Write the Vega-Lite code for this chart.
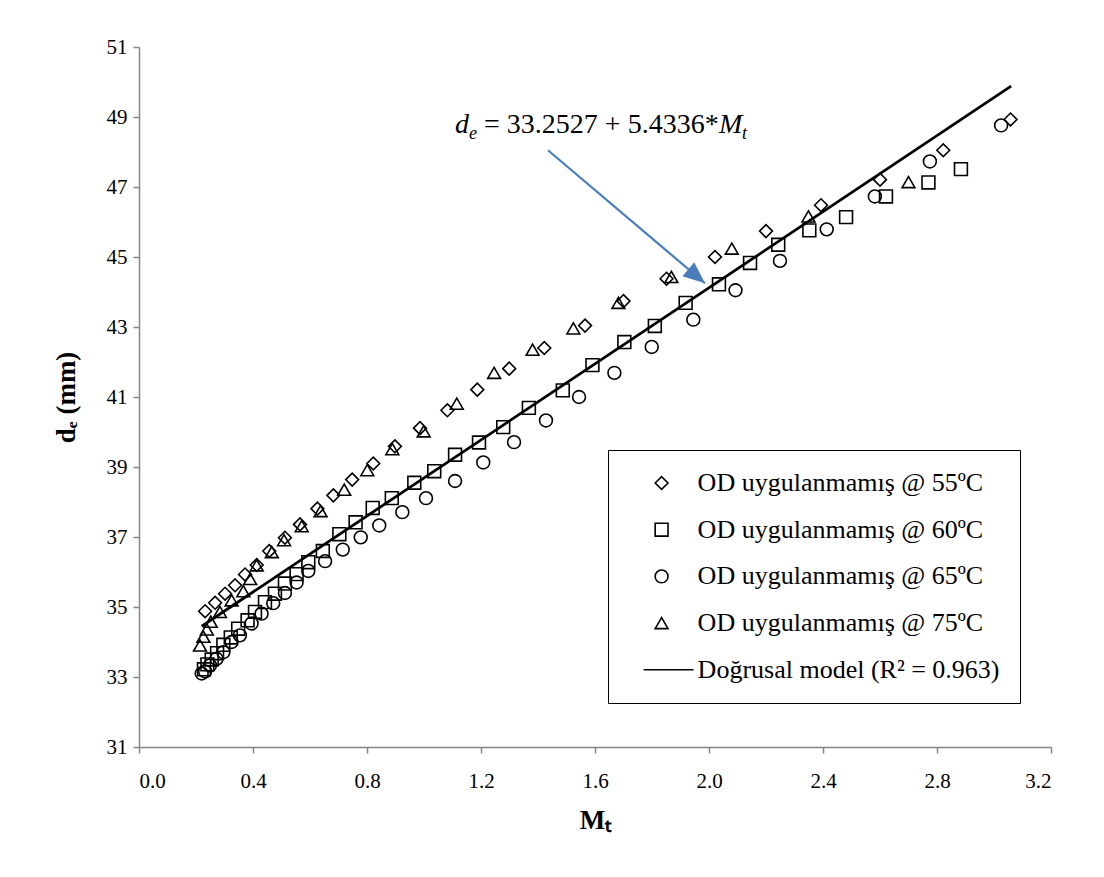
{
  "$schema": "https://vega.github.io/schema/vega-lite/v6.json",
  "width": 912,
  "height": 700,
  "autosize": {"type": "none"},
  "padding": {"left": 139, "top": 47, "right": 53, "bottom": 130},
  "background": "white",
  "config": {
    "font": "Liberation Serif",
    "view": {"stroke": null},
    "axis": {
      "grid": false,
      "domainColor": "#868686",
      "domainWidth": 1.5,
      "tickColor": "#868686",
      "tickWidth": 1.5,
      "tickSize": 6,
      "labelFont": "Liberation Serif",
      "labelFontSize": 21,
      "labelColor": "black",
      "titleFont": "Liberation Serif",
      "titleFontSize": 27,
      "titleFontWeight": "bold",
      "titleColor": "black"
    },
    "legend": {
      "orient": "none",
      "legendX": 469,
      "legendY": 403,
      "title": null,
      "strokeColor": "black",
      "padding": 20,
      "rowPadding": 20.7,
      "labelFont": "Liberation Serif",
      "labelFontSize": 26,
      "labelColor": "black",
      "labelLimit": 500,
      "labelOffset": 23,
      "symbolSize": 165,
      "symbolOffset": 20.6,
      "symbolStrokeColor": "black",
      "symbolStrokeWidth": 1.6
    }
  },
  "datasets": {
    "pts": [
      {"s": "OD uygulanmamış @ 55ºC", "Mt": 0.232, "de": 34.88},
      {"s": "OD uygulanmamış @ 55ºC", "Mt": 0.267, "de": 35.12},
      {"s": "OD uygulanmamış @ 55ºC", "Mt": 0.302, "de": 35.38},
      {"s": "OD uygulanmamış @ 55ºC", "Mt": 0.337, "de": 35.62},
      {"s": "OD uygulanmamış @ 55ºC", "Mt": 0.372, "de": 35.93},
      {"s": "OD uygulanmamış @ 55ºC", "Mt": 0.413, "de": 36.2},
      {"s": "OD uygulanmamış @ 55ºC", "Mt": 0.457, "de": 36.6},
      {"s": "OD uygulanmamış @ 55ºC", "Mt": 0.512, "de": 36.98},
      {"s": "OD uygulanmamış @ 55ºC", "Mt": 0.565, "de": 37.36},
      {"s": "OD uygulanmamış @ 55ºC", "Mt": 0.626, "de": 37.81},
      {"s": "OD uygulanmamış @ 55ºC", "Mt": 0.682, "de": 38.19},
      {"s": "OD uygulanmamış @ 55ºC", "Mt": 0.748, "de": 38.64},
      {"s": "OD uygulanmamış @ 55ºC", "Mt": 0.822, "de": 39.1},
      {"s": "OD uygulanmamış @ 55ºC", "Mt": 0.898, "de": 39.59},
      {"s": "OD uygulanmamış @ 55ºC", "Mt": 0.986, "de": 40.11},
      {"s": "OD uygulanmamış @ 55ºC", "Mt": 1.082, "de": 40.62},
      {"s": "OD uygulanmamış @ 55ºC", "Mt": 1.187, "de": 41.21},
      {"s": "OD uygulanmamış @ 55ºC", "Mt": 1.299, "de": 41.81},
      {"s": "OD uygulanmamış @ 55ºC", "Mt": 1.422, "de": 42.4},
      {"s": "OD uygulanmamış @ 55ºC", "Mt": 1.565, "de": 43.04},
      {"s": "OD uygulanmamış @ 55ºC", "Mt": 1.7, "de": 43.74},
      {"s": "OD uygulanmamış @ 55ºC", "Mt": 1.851, "de": 44.38},
      {"s": "OD uygulanmamış @ 55ºC", "Mt": 2.021, "de": 45.0},
      {"s": "OD uygulanmamış @ 55ºC", "Mt": 2.2, "de": 45.74},
      {"s": "OD uygulanmamış @ 55ºC", "Mt": 2.393, "de": 46.48},
      {"s": "OD uygulanmamış @ 55ºC", "Mt": 2.6, "de": 47.21},
      {"s": "OD uygulanmamış @ 55ºC", "Mt": 2.822, "de": 48.05},
      {"s": "OD uygulanmamış @ 55ºC", "Mt": 3.058, "de": 48.93},
      {"s": "OD uygulanmamış @ 60ºC", "Mt": 0.228, "de": 33.22},
      {"s": "OD uygulanmamış @ 60ºC", "Mt": 0.24, "de": 33.36},
      {"s": "OD uygulanmamış @ 60ºC", "Mt": 0.255, "de": 33.5},
      {"s": "OD uygulanmamış @ 60ºC", "Mt": 0.274, "de": 33.68},
      {"s": "OD uygulanmamış @ 60ºC", "Mt": 0.296, "de": 33.92},
      {"s": "OD uygulanmamış @ 60ºC", "Mt": 0.322, "de": 34.13},
      {"s": "OD uygulanmamış @ 60ºC", "Mt": 0.348, "de": 34.38},
      {"s": "OD uygulanmamış @ 60ºC", "Mt": 0.381, "de": 34.62},
      {"s": "OD uygulanmamış @ 60ºC", "Mt": 0.407, "de": 34.86},
      {"s": "OD uygulanmamış @ 60ºC", "Mt": 0.442, "de": 35.14},
      {"s": "OD uygulanmamış @ 60ºC", "Mt": 0.477, "de": 35.38},
      {"s": "OD uygulanmamış @ 60ºC", "Mt": 0.512, "de": 35.67},
      {"s": "OD uygulanmamış @ 60ºC", "Mt": 0.553, "de": 35.94},
      {"s": "OD uygulanmamış @ 60ºC", "Mt": 0.594, "de": 36.28},
      {"s": "OD uygulanmamış @ 60ºC", "Mt": 0.645, "de": 36.6},
      {"s": "OD uygulanmamış @ 60ºC", "Mt": 0.703, "de": 37.08},
      {"s": "OD uygulanmamış @ 60ºC", "Mt": 0.76, "de": 37.42},
      {"s": "OD uygulanmamış @ 60ºC", "Mt": 0.82, "de": 37.83},
      {"s": "OD uygulanmamış @ 60ºC", "Mt": 0.887, "de": 38.11},
      {"s": "OD uygulanmamış @ 60ºC", "Mt": 0.966, "de": 38.55},
      {"s": "OD uygulanmamış @ 60ºC", "Mt": 1.036, "de": 38.88},
      {"s": "OD uygulanmamış @ 60ºC", "Mt": 1.109, "de": 39.35},
      {"s": "OD uygulanmamış @ 60ºC", "Mt": 1.193, "de": 39.7},
      {"s": "OD uygulanmamış @ 60ºC", "Mt": 1.278, "de": 40.14},
      {"s": "OD uygulanmamış @ 60ºC", "Mt": 1.368, "de": 40.69},
      {"s": "OD uygulanmamış @ 60ºC", "Mt": 1.487, "de": 41.19},
      {"s": "OD uygulanmamış @ 60ºC", "Mt": 1.591, "de": 41.91},
      {"s": "OD uygulanmamış @ 60ºC", "Mt": 1.703, "de": 42.57},
      {"s": "OD uygulanmamış @ 60ºC", "Mt": 1.81, "de": 43.03},
      {"s": "OD uygulanmamış @ 60ºC", "Mt": 1.918, "de": 43.69},
      {"s": "OD uygulanmamış @ 60ºC", "Mt": 2.035, "de": 44.22},
      {"s": "OD uygulanmamış @ 60ºC", "Mt": 2.144, "de": 44.83},
      {"s": "OD uygulanmamış @ 60ºC", "Mt": 2.243, "de": 45.35},
      {"s": "OD uygulanmamış @ 60ºC", "Mt": 2.352, "de": 45.76},
      {"s": "OD uygulanmamış @ 60ºC", "Mt": 2.481, "de": 46.14},
      {"s": "OD uygulanmamış @ 60ºC", "Mt": 2.621, "de": 46.73},
      {"s": "OD uygulanmamış @ 60ºC", "Mt": 2.77, "de": 47.13},
      {"s": "OD uygulanmamış @ 60ºC", "Mt": 2.884, "de": 47.51},
      {"s": "OD uygulanmamış @ 65ºC", "Mt": 0.22, "de": 33.1},
      {"s": "OD uygulanmamış @ 65ºC", "Mt": 0.232, "de": 33.16},
      {"s": "OD uygulanmamış @ 65ºC", "Mt": 0.249, "de": 33.33},
      {"s": "OD uygulanmamış @ 65ºC", "Mt": 0.272, "de": 33.52},
      {"s": "OD uygulanmamış @ 65ºC", "Mt": 0.296, "de": 33.71},
      {"s": "OD uygulanmamış @ 65ºC", "Mt": 0.325, "de": 34.0},
      {"s": "OD uygulanmamış @ 65ºC", "Mt": 0.354, "de": 34.19},
      {"s": "OD uygulanmamış @ 65ºC", "Mt": 0.395, "de": 34.53},
      {"s": "OD uygulanmamış @ 65ºC", "Mt": 0.43, "de": 34.81},
      {"s": "OD uygulanmamış @ 65ºC", "Mt": 0.471, "de": 35.11},
      {"s": "OD uygulanmamış @ 65ºC", "Mt": 0.512, "de": 35.4},
      {"s": "OD uygulanmamış @ 65ºC", "Mt": 0.553, "de": 35.7},
      {"s": "OD uygulanmamış @ 65ºC", "Mt": 0.594, "de": 36.03},
      {"s": "OD uygulanmamış @ 65ºC", "Mt": 0.653, "de": 36.31},
      {"s": "OD uygulanmamış @ 65ºC", "Mt": 0.715, "de": 36.64},
      {"s": "OD uygulanmamış @ 65ºC", "Mt": 0.778, "de": 36.99},
      {"s": "OD uygulanmamış @ 65ºC", "Mt": 0.843, "de": 37.33},
      {"s": "OD uygulanmamış @ 65ºC", "Mt": 0.924, "de": 37.71},
      {"s": "OD uygulanmamış @ 65ºC", "Mt": 1.007, "de": 38.11},
      {"s": "OD uygulanmamış @ 65ºC", "Mt": 1.109, "de": 38.6},
      {"s": "OD uygulanmamış @ 65ºC", "Mt": 1.208, "de": 39.13},
      {"s": "OD uygulanmamış @ 65ºC", "Mt": 1.316, "de": 39.71},
      {"s": "OD uygulanmamış @ 65ºC", "Mt": 1.428, "de": 40.33},
      {"s": "OD uygulanmamış @ 65ºC", "Mt": 1.544, "de": 41.0},
      {"s": "OD uygulanmamış @ 65ºC", "Mt": 1.668, "de": 41.69},
      {"s": "OD uygulanmamış @ 65ºC", "Mt": 1.799, "de": 42.43},
      {"s": "OD uygulanmamış @ 65ºC", "Mt": 1.945, "de": 43.21},
      {"s": "OD uygulanmamış @ 65ºC", "Mt": 2.093, "de": 44.05},
      {"s": "OD uygulanmamış @ 65ºC", "Mt": 2.249, "de": 44.89},
      {"s": "OD uygulanmamış @ 65ºC", "Mt": 2.413, "de": 45.79},
      {"s": "OD uygulanmamış @ 65ºC", "Mt": 2.582, "de": 46.73},
      {"s": "OD uygulanmamış @ 65ºC", "Mt": 2.775, "de": 47.73},
      {"s": "OD uygulanmamış @ 65ºC", "Mt": 3.025, "de": 48.76},
      {"s": "OD uygulanmamış @ 75ºC", "Mt": 0.214, "de": 33.9},
      {"s": "OD uygulanmamış @ 75ºC", "Mt": 0.226, "de": 34.15},
      {"s": "OD uygulanmamış @ 75ºC", "Mt": 0.238, "de": 34.36},
      {"s": "OD uygulanmamış @ 75ºC", "Mt": 0.252, "de": 34.58},
      {"s": "OD uygulanmamış @ 75ºC", "Mt": 0.284, "de": 34.86},
      {"s": "OD uygulanmamış @ 75ºC", "Mt": 0.325, "de": 35.19},
      {"s": "OD uygulanmamış @ 75ºC", "Mt": 0.366, "de": 35.45},
      {"s": "OD uygulanmamış @ 75ºC", "Mt": 0.39, "de": 35.8},
      {"s": "OD uygulanmamış @ 75ºC", "Mt": 0.413, "de": 36.19},
      {"s": "OD uygulanmamış @ 75ºC", "Mt": 0.466, "de": 36.57},
      {"s": "OD uygulanmamış @ 75ºC", "Mt": 0.509, "de": 36.91},
      {"s": "OD uygulanmamış @ 75ºC", "Mt": 0.571, "de": 37.31},
      {"s": "OD uygulanmamış @ 75ºC", "Mt": 0.637, "de": 37.74},
      {"s": "OD uygulanmamış @ 75ºC", "Mt": 0.72, "de": 38.35},
      {"s": "OD uygulanmamış @ 75ºC", "Mt": 0.801, "de": 38.91},
      {"s": "OD uygulanmamış @ 75ºC", "Mt": 0.889, "de": 39.51},
      {"s": "OD uygulanmamış @ 75ºC", "Mt": 0.999, "de": 40.02},
      {"s": "OD uygulanmamış @ 75ºC", "Mt": 1.115, "de": 40.81},
      {"s": "OD uygulanmamış @ 75ºC", "Mt": 1.246, "de": 41.69},
      {"s": "OD uygulanmamış @ 75ºC", "Mt": 1.381, "de": 42.35},
      {"s": "OD uygulanmamış @ 75ºC", "Mt": 1.524, "de": 42.96},
      {"s": "OD uygulanmamış @ 75ºC", "Mt": 1.682, "de": 43.69},
      {"s": "OD uygulanmamış @ 75ºC", "Mt": 1.868, "de": 44.43},
      {"s": "OD uygulanmamış @ 75ºC", "Mt": 2.08, "de": 45.24},
      {"s": "OD uygulanmamış @ 75ºC", "Mt": 2.349, "de": 46.16},
      {"s": "OD uygulanmamış @ 75ºC", "Mt": 2.7, "de": 47.14}
    ],
    "model": [
      {"Mt": 0.22, "de": 34.45},
      {"Mt": 3.06, "de": 49.88}
    ],
    "arrow": [
      {"Mt": 1.435, "de": 48.05},
      {"Mt": 1.986, "de": 44.25}
    ],
    "tip": [
      {"Mt": 1.986, "de": 44.25}
    ],
    "eq": [
      {"Mt": 1.109, "de": 48.53}
    ]
  },
  "encoding": {
    "x": {
      "field": "Mt",
      "type": "quantitative",
      "scale": {"domain": [0, 3.2], "nice": false, "zero": false},
      "axis": {
        "values": [0, 0.4, 0.8, 1.2, 1.6, 2.0, 2.4, 2.8, 3.2],
        "format": ".1f",
        "labelPadding": 17,
        "title": "Mₜ",
        "titlePadding": 16
      }
    },
    "y": {
      "field": "de",
      "type": "quantitative",
      "scale": {"domain": [31, 51], "nice": false, "zero": false},
      "axis": {
        "values": [31, 33, 35, 37, 39, 41, 43, 45, 47, 49, 51],
        "labelPadding": 6,
        "title": "dₑ (mm)",
        "titlePadding": 26
      }
    }
  },
  "layer": [
    {
      "data": {"name": "model"},
      "mark": {"type": "line", "color": "black", "strokeWidth": 2.75}
    },
    {
      "data": {"name": "pts"},
      "mark": {"type": "point", "filled": false, "color": "black", "strokeWidth": 1.6, "opacity": 1, "size": 165},
      "encoding": {
        "shape": {
          "field": "s",
          "type": "nominal",
          "scale": {
            "domain": ["OD uygulanmamış @ 55ºC", "OD uygulanmamış @ 60ºC", "OD uygulanmamış @ 65ºC", "OD uygulanmamış @ 75ºC", "Doğrusal model (R² = 0.963)"],
            "range": ["diamond", "square", "circle", "triangle-up", "M -2.8 0 L 4.98 0"]
          },
          "legend": {"title": null}
        }
      }
    },
    {
      "data": {"name": "arrow"},
      "mark": {"type": "line", "color": "#4A7EBB", "strokeWidth": 2.25}
    },
    {
      "data": {"name": "tip"},
      "mark": {"type": "point", "shape": "M 0 0 L -1 -0.42 L -1 0.42 Z", "angle": 40, "size": 1900, "filled": true, "color": "#4A7EBB", "opacity": 1}
    },
    {
      "data": {"name": "eq"},
      "mark": {"type": "text", "text": "d", "align": "left", "baseline": "alphabetic", "font": "Liberation Serif", "fontSize": 28, "fontStyle": "italic", "color": "black", "dx": 0}
    },
    {
      "data": {"name": "eq"},
      "mark": {"type": "text", "text": "e", "align": "left", "baseline": "alphabetic", "font": "Liberation Serif", "fontSize": 18, "fontStyle": "italic", "color": "black", "dx": 14, "dy": 6}
    },
    {
      "data": {"name": "eq"},
      "mark": {"type": "text", "text": "= 33.2527 + 5.4336*", "align": "left", "baseline": "alphabetic", "font": "Liberation Serif", "fontSize": 28, "color": "black", "dx": 29}
    },
    {
      "data": {"name": "eq"},
      "mark": {"type": "text", "text": "M", "align": "left", "baseline": "alphabetic", "font": "Liberation Serif", "fontSize": 28, "fontStyle": "italic", "color": "black", "dx": 264}
    },
    {
      "data": {"name": "eq"},
      "mark": {"type": "text", "text": "t", "align": "left", "baseline": "alphabetic", "font": "Liberation Serif", "fontSize": 18, "fontStyle": "italic", "color": "black", "dx": 287, "dy": 6}
    }
  ]
}
